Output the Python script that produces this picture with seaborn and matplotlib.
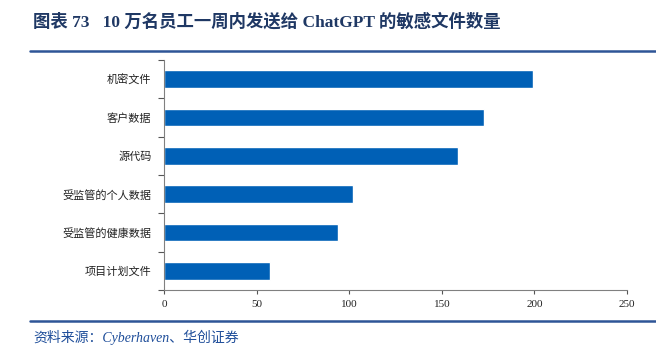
import numpy as np
import pandas as pd
import matplotlib
matplotlib.use('Agg')
import matplotlib.pyplot as plt
import seaborn as sns

# данные
categories = ['机密文件', '客户数据', '源代码', '受监管的个人数据', '受监管的健康数据', '项目计划文件']
values = [199, 173, 159, 102, 94, 57]
x_ticks = [0, 50, 100, 150, 200, 250]

title = '图表 73   10 万名员工一周内发送给 ChatGPT 的敏感文件数量'
source = '资料来源：Cyberhaven、华创证券'

sns.set_style('white')
plt.rcParams['font.family'] = ['Liberation Serif', 'Noto Sans CJK SC', 'DejaVu Sans']

df = pd.DataFrame({'cat': categories, 'val': values})

fig = plt.figure(figsize=(6.56, 3.51), dpi=100)
ax = fig.add_axes([164 / 656, 1 - 290 / 351, (627 - 164) / 656, 230 / 351])

sns.barplot(data=df, x='val', y='cat', orient='h', color='#0060b6',
            width=0.46, ax=ax, saturation=1)

ax.set_xlim(0, 250)
ax.set_ylim(5.5, -0.5)
ax.set_xticks(x_ticks)
ax.set_xlabel('')
ax.set_ylabel('')
for s in ['top', 'right']:
    ax.spines[s].set_visible(False)
for s in ['left', 'bottom']:
    ax.spines[s].set_color('#808080')
    ax.spines[s].set_linewidth(0.8)

ax.set_yticks(np.arange(-0.5, 6, 1), minor=True)
ax.tick_params(axis='y', which='major', left=True, length=0, pad=9, labelsize=8,
               labelcolor='#222222')
ax.tick_params(axis='y', which='minor', left=True, length=4, direction='out',
               color='#555555', width=0.8)
ax.tick_params(axis='x', bottom=True, length=3, direction='out', color='#555555', width=0.8,
               labelsize=8, labelcolor='#222222', pad=4)
for lab in ax.get_yticklabels():
    lab.set_family(['Noto Sans CJK SC'])

# заголовок и линии
fig.text(33 / 656, 1 - 22 / 351, title, fontsize=12.5, fontweight='bold',
         color='#1f3864', va='center', ha='left')
fig.add_artist(plt.Line2D([30 / 656, 1], [1 - 51 / 351] * 2, color='#2e5597', lw=1.8))
fig.add_artist(plt.Line2D([30 / 656, 1], [1 - 321 / 351] * 2, color='#2e5597', lw=1.8))
fig.text(33 / 656, 1 - 337 / 351, source, fontsize=10, style='italic',
         color='#1f4e9a', va='center', ha='left')

fig.savefig('out.png', dpi=100)
